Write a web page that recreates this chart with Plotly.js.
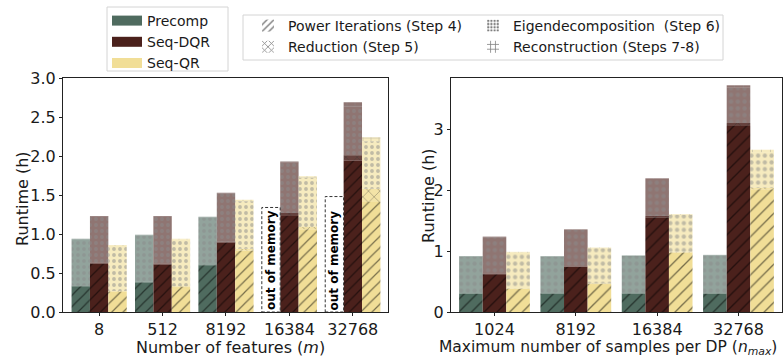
<!DOCTYPE html>
<html><head><meta charset="utf-8">
<script src="https://cdn.plot.ly/plotly-3.0.1.min.js"></script>
<style>html,body{margin:0;padding:0;background:#fff}#chart{width:783px;height:362px}</style>
</head><body><div id="chart"></div>
<script>
// ---------- DATA ----------
const featureCats = ['8', '512', '8192', '16384', '32768'];
const sampleCats = ['1024', '8192', '16384', '32768'];

const seriesNames = ['Precomp', 'Seq-DQR', 'Seq-QR'];
const stepNames = ['Power Iterations (Step 4)', 'Reduction (Step 5)', 'Eigendecomposition\u00a0 (Step 6)', 'Reconstruction (Steps 7-8)'];

// Left panel: number of features (m)
const mPrecompPower     = [0.33, 0.38, 0.60, null, null];
const mPrecompReduction = [0.01, 0.01, 0.01, null, null];
const mPrecompEigen     = [0.59, 0.59, 0.60, null, null];
const mPrecompRecon     = [0.01, 0.01, 0.01, null, null];
const mDqrPower         = [0.62, 0.61, 0.89, 1.23, 1.94];
const mDqrReduction     = [0.01, 0.01, 0.01, 0.04, 0.07];
const mDqrEigen         = [0.59, 0.60, 0.62, 0.65, 0.62];
const mDqrRecon         = [0.01, 0.01, 0.01, 0.01, 0.06];
const mQrPower          = [0.26, 0.32, 0.79, 1.06, 1.41];
const mQrReduction      = [0.01, 0.01, 0.02, 0.03, 0.17];
const mQrEigen          = [0.58, 0.60, 0.61, 0.63, 0.61];
const mQrRecon          = [0.01, 0.01, 0.02, 0.02, 0.05];
const mPrecompOutOfMemory = [null, null, null, 1.34, 1.48];

// Right panel: max samples per DP (n_max)
const nPrecompPower     = [0.30, 0.30, 0.30, 0.30];
const nPrecompReduction = [0.01, 0.01, 0.01, 0.01];
const nPrecompEigen     = [0.60, 0.60, 0.61, 0.62];
const nPrecompRecon     = [0.01, 0.01, 0.01, 0.01];
const nDqrPower         = [0.62, 0.74, 1.56, 3.06];
const nDqrReduction     = [0.01, 0.01, 0.02, 0.05];
const nDqrEigen         = [0.60, 0.60, 0.61, 0.58];
const nDqrRecon         = [0.01, 0.01, 0.01, 0.04];
const nQrPower          = [0.38, 0.46, 0.98, 2.02];
const nQrReduction      = [0.01, 0.01, 0.01, 0.02];
const nQrEigen          = [0.59, 0.58, 0.61, 0.59];
const nQrRecon          = [0.01, 0.01, 0.01, 0.04];

const xTitleM = 'Number of features (<i>m</i>)';
const xTitleN = 'Maximum number of samples per DP (<i>n</i><sub><i>max</i></sub>)';
const yTitle = 'Runtime (h)';

// ---------- STYLE ----------
const seriesColors = ['#4f6b5f', '#4b211c', '#f1de97'];
const FONT = 'DejaVu Sans';
const TXT = '#1a1a1a';
const stepStyles = [
  {shape: '/', fg: '#000', opacity: 1.0, solidity: 0.15},
  {shape: 'x', fg: '#111', opacity: 0.85, solidity: 0.15},
  {shape: '.', fg: '#444', opacity: 0.62, solidity: 0.32},
  {shape: '+', fg: '#444', opacity: 0.62, solidity: 0.15}
];
const barW = 0.29;

function addSeries(traces, cats, steps, slot, color, xa, ya, psize) {
  const base = cats.map(() => 0);
  steps.forEach((vals, k) => {
    const st = stepStyles[k];
    traces.push({
      type: 'bar', x: cats, y: vals, base: base.slice(),
      xaxis: xa, yaxis: ya, width: barW, offset: -1.5 * barW + slot * barW,
      showlegend: false, hoverinfo: 'skip',
      marker: {
        color: color, opacity: st.opacity, line: {width: 0},
        pattern: {shape: st.shape, fgcolor: st.fg, fillmode: 'overlay',
                  size: st.shape === '.' ? psize * 0.75 : psize, solidity: st.solidity}
      }
    });
    vals.forEach((v, i) => { if (v != null) base[i] += v; });
  });
}

const traces = [];
addSeries(traces, featureCats, [mPrecompPower, mPrecompReduction, mPrecompEigen, mPrecompRecon], 0, seriesColors[0], 'x', 'y', 8);
addSeries(traces, featureCats, [mDqrPower, mDqrReduction, mDqrEigen, mDqrRecon], 1, seriesColors[1], 'x', 'y', 8);
addSeries(traces, featureCats, [mQrPower, mQrReduction, mQrEigen, mQrRecon], 2, seriesColors[2], 'x', 'y', 8);
addSeries(traces, sampleCats, [nPrecompPower, nPrecompReduction, nPrecompEigen, nPrecompRecon], 0, seriesColors[0], 'x2', 'y2', 9);
addSeries(traces, sampleCats, [nDqrPower, nDqrReduction, nDqrEigen, nDqrRecon], 1, seriesColors[1], 'x2', 'y2', 9);
addSeries(traces, sampleCats, [nQrPower, nQrReduction, nQrEigen, nQrRecon], 2, seriesColors[2], 'x2', 'y2', 9);

// Legend 1: series colours
seriesNames.forEach((nm, s) => {
  traces.push({type: 'scatter', mode: 'lines', x: [null], y: [null], name: nm,
    line: {color: seriesColors[s], width: 10}, legend: 'legend', showlegend: true, hoverinfo: 'skip'});
});
// Legends 2/3: hatch patterns
stepNames.forEach((nm, k) => {
  const st = stepStyles[k];
  traces.push({type: 'bar', x: [null], y: [null], name: nm,
    legend: k === 0 || k === 1 ? 'legend2' : 'legend3', showlegend: true, hoverinfo: 'skip',
    marker: {color: 'white', line: {width: 0},
      pattern: {shape: st.shape, fgcolor: '#000', fillmode: 'overlay',
        size: st.shape === '.' ? 4 : 6, solidity: st.shape === '.' ? 0.45 : 0.3}}});
});

// Out-of-memory boxes (precomp slot)
const shapes = [];
const annotations = [];
mPrecompOutOfMemory.forEach((v, i) => {
  if (v == null) return;
  const x0 = i - 1.5 * barW, x1 = i - 0.5 * barW;
  shapes.push({type: 'rect', xref: 'x', yref: 'y', x0: x0, x1: x1, y0: 0, y1: v,
    fillcolor: 'white', line: {color: '#333', width: 1, dash: '3px,2px'}, layer: 'above'});
  annotations.push({xref: 'x', yref: 'y', x: (x0 + x1) / 2, y: 0.0, yanchor: 'bottom', xanchor: 'center',
    text: '<b>out of memory</b>', textangle: -90, showarrow: false,
    font: {family: FONT, size: 12, color: '#000'}});
});

// Legend frames
const P = (px) => (px - 63) / 719;     // pixel x -> paper
const Q = (py) => (312 - py) / 234;    // pixel y -> paper
shapes.push({type: 'rect', xref: 'paper', yref: 'paper', x0: P(107), x1: P(228), y0: Q(71), y1: Q(7),
  line: {color: '#d4d4d4', width: 1}, fillcolor: 'rgba(255,255,255,0.85)', layer: 'above'});
shapes.push({type: 'rect', xref: 'paper', yref: 'paper', x0: P(243), x1: P(723), y0: Q(60), y1: Q(15),
  line: {color: '#d4d4d4', width: 1}, fillcolor: 'rgba(255,255,255,0.85)', layer: 'above'});

// Axis titles as positioned annotations
const titleFont = {family: FONT, size: 16, color: TXT};
annotations.push({xref: 'paper', yref: 'paper', x: P(230), y: Q(347), xanchor: 'center', yanchor: 'middle',
  text: xTitleM, showarrow: false, borderpad: 0, font: titleFont});
annotations.push({xref: 'paper', yref: 'paper', x: P(608), y: Q(348), xanchor: 'center', yanchor: 'middle',
  text: xTitleN, showarrow: false, borderpad: 0, font: {family: FONT, size: 15.5, color: TXT}});
annotations.push({xref: 'paper', yref: 'paper', x: P(22), y: Q(199), xanchor: 'center', yanchor: 'middle',
  text: yTitle, textangle: -90, showarrow: false, borderpad: 0, font: titleFont});
annotations.push({xref: 'paper', yref: 'paper', x: P(428), y: Q(195), xanchor: 'center', yanchor: 'middle',
  text: yTitle, textangle: -90, showarrow: false, borderpad: 0, font: titleFont});

const axisCommon = {
  showline: true, mirror: true, linecolor: '#222', linewidth: 1,
  ticks: 'outside', ticklen: 3, tickwidth: 1, tickcolor: '#222',
  showgrid: false, zeroline: false,
  tickfont: {family: FONT, size: 16, color: TXT}
};

const layout = {
  width: 783, height: 362,
  margin: {l: 63, r: 1, t: 78, b: 50},
  paper_bgcolor: 'white', plot_bgcolor: 'white',
  barmode: 'overlay',
  font: {family: FONT, color: TXT},
  showlegend: true,
  xaxis: Object.assign({}, axisCommon, {domain: [0, 0.4516], type: 'category', range: [-0.57, 4.55]}),
  yaxis: Object.assign({}, axisCommon, {range: [0, 3.0], dtick: 0.5, tickformat: '.1f'}),
  xaxis2: Object.assign({}, axisCommon, {domain: [0.5396, 1], type: 'category', anchor: 'y2', range: [-0.535, 3.535]}),
  yaxis2: Object.assign({}, axisCommon, {anchor: 'x2', range: [0, 3.85], dtick: 1}),
  legend: {x: P(107), y: Q(5), xanchor: 'left', yanchor: 'top', bgcolor: 'rgba(0,0,0,0)', borderwidth: 0,
    font: {family: FONT, size: 14, color: TXT}, tracegroupgap: 0, itemwidth: 30},
  legend2: {x: P(248), y: Q(10), xanchor: 'left', yanchor: 'top', bgcolor: 'rgba(0,0,0,0)', borderwidth: 0,
    font: {family: FONT, size: 14, color: TXT}, itemwidth: 30},
  legend3: {x: P(473), y: Q(10), xanchor: 'left', yanchor: 'top', bgcolor: 'rgba(0,0,0,0)', borderwidth: 0,
    font: {family: FONT, size: 14, color: TXT}, itemwidth: 30},
  shapes: shapes,
  annotations: annotations
};

Plotly.newPlot('chart', traces, layout, {displayModeBar: false, staticPlot: true});
</script>
</body></html>
